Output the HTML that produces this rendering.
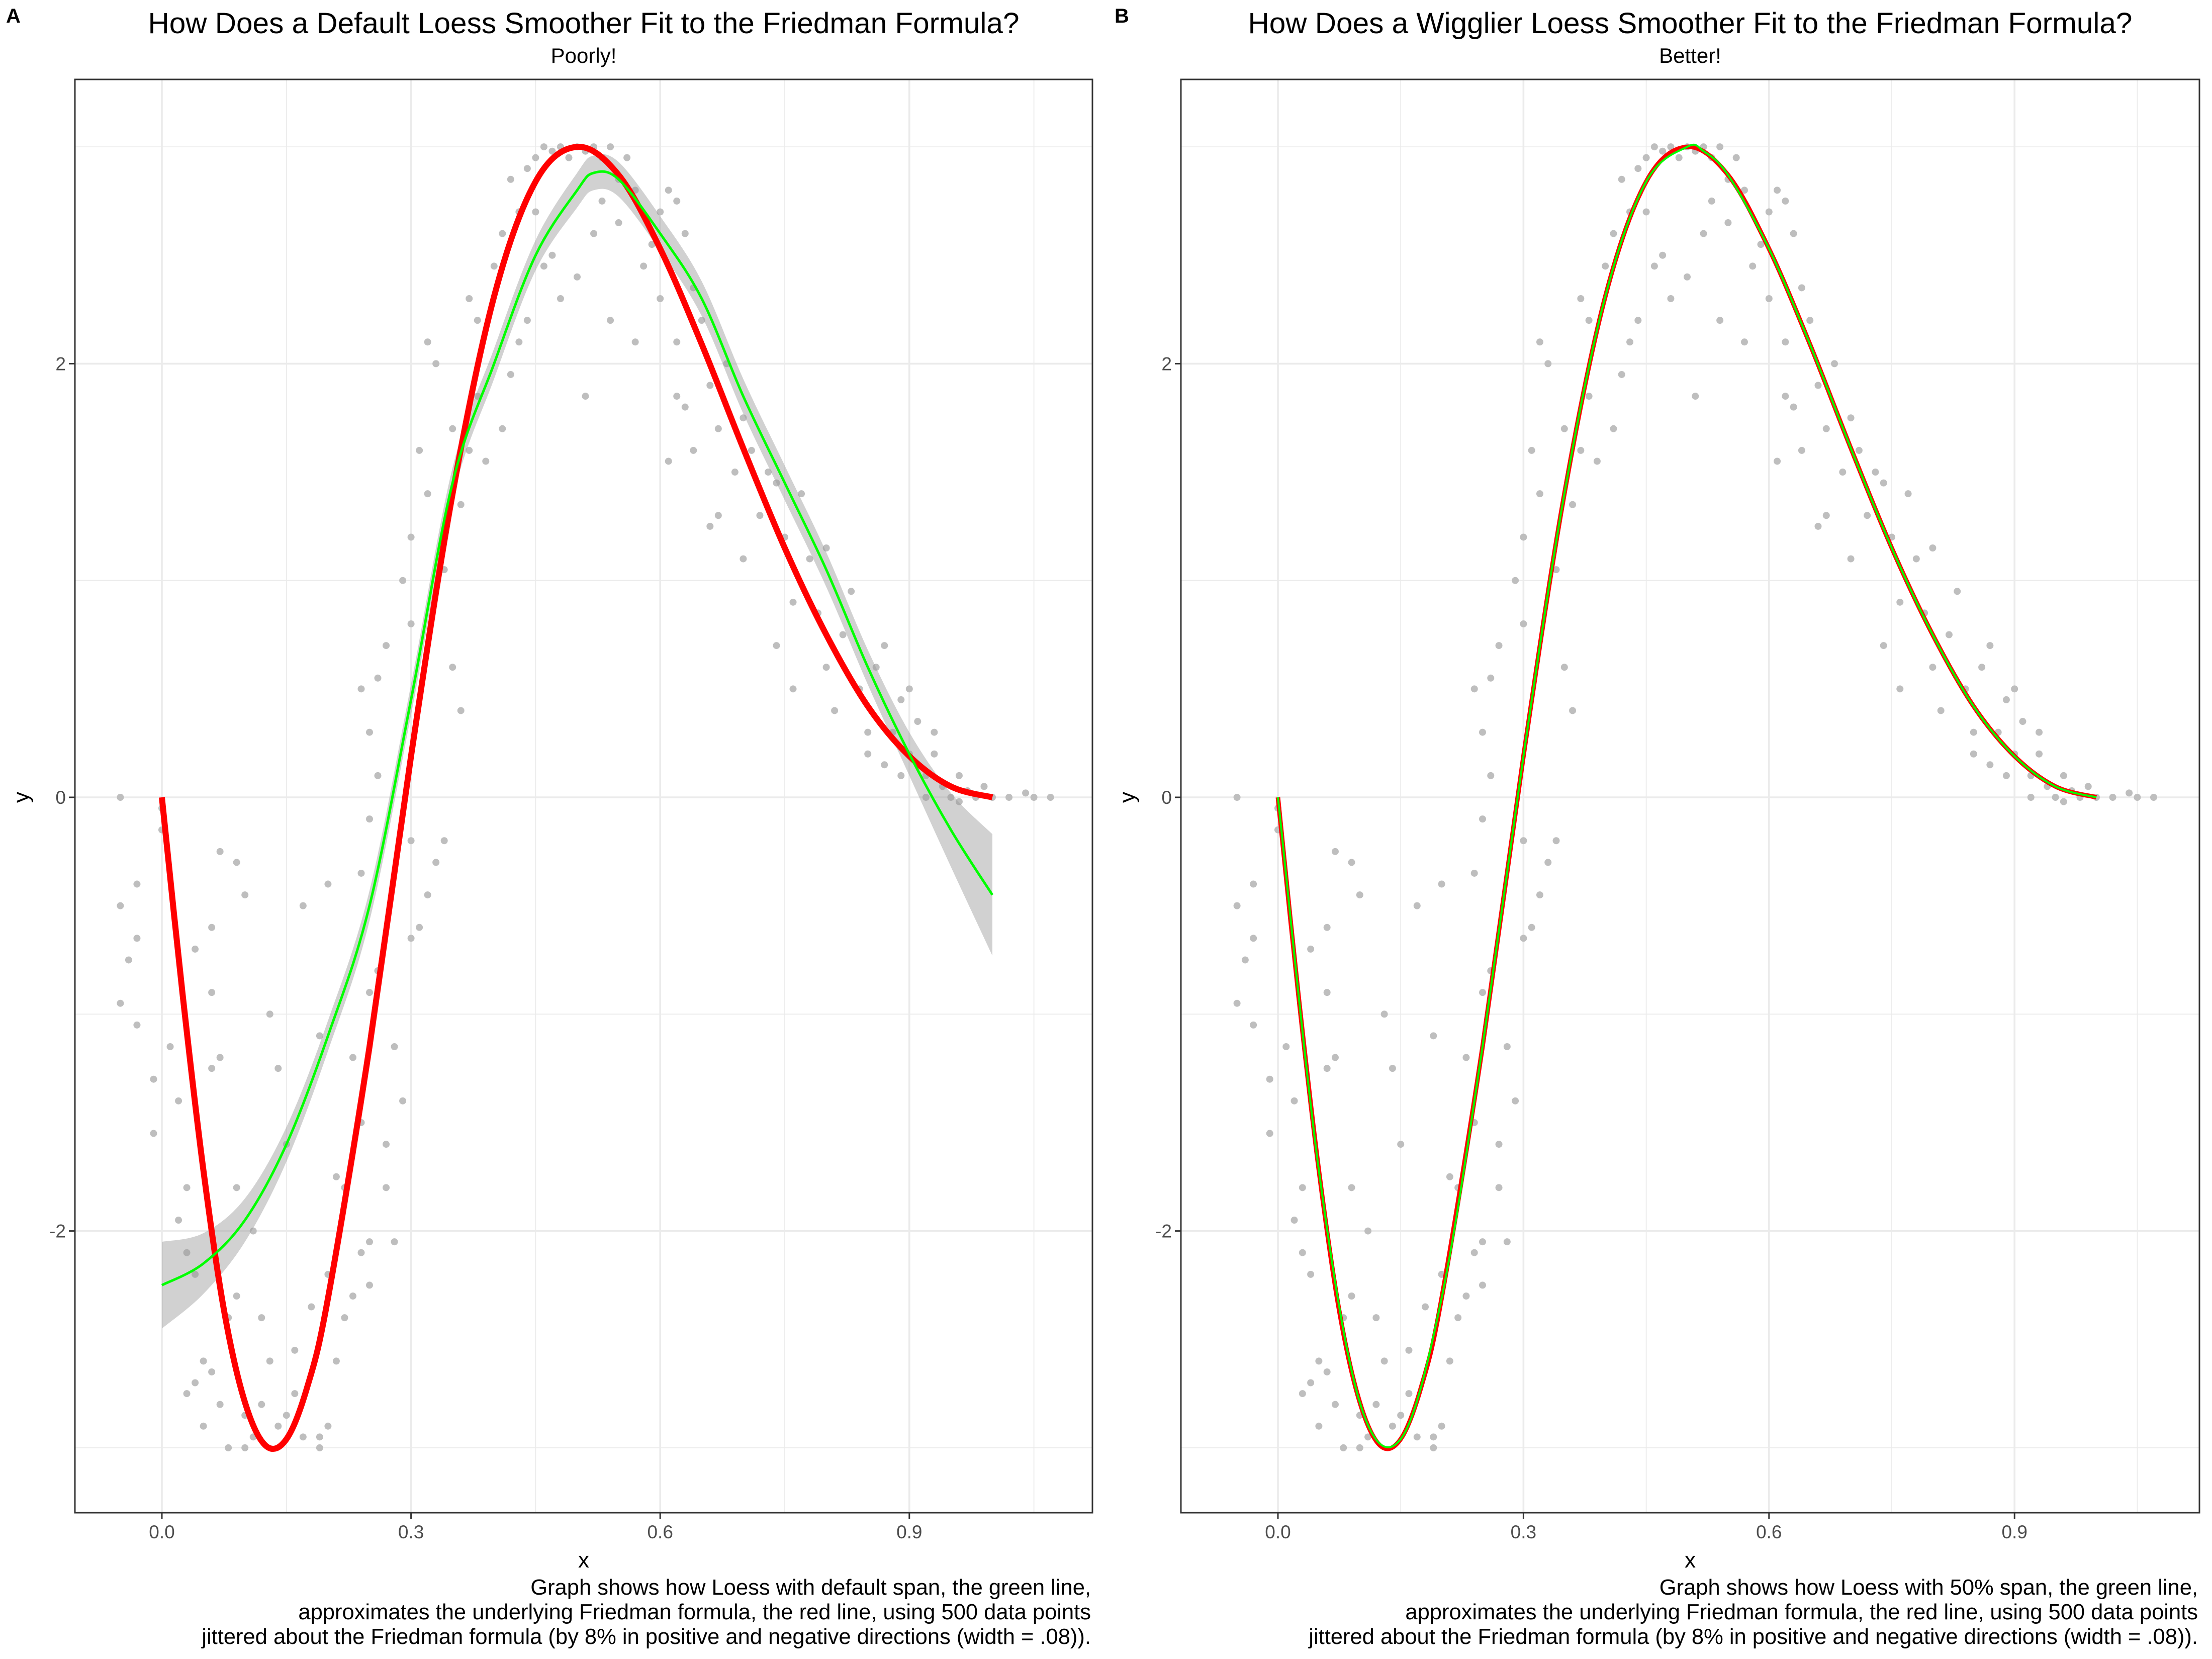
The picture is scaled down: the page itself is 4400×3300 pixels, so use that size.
<!DOCTYPE html>
<html><head><meta charset="utf-8"><style>
html,body{margin:0;padding:0;background:#fff}
svg{display:block;font-family:"Liberation Sans",Arial,sans-serif}
</style></head><body>
<svg id="fig" width="4400" height="3300" viewBox="0 0 4400 3300" xmlns="http://www.w3.org/2000/svg">
<rect width="4400" height="3300" fill="#fff"/>
</svg>
<script>
// ---- data ----
const curveX = [0,0.025,0.05,0.075,0.1,0.125,0.15,0.175,0.2,0.25,0.3,0.35,0.4,0.45,0.5,0.55,0.6,0.65,0.7,0.75,0.8,0.85,0.9,0.95,1.0];
const redY   = [0,-0.91,-1.72,-2.37,-2.79,-2.99,-2.96,-2.72,-2.31,-1.15,0.19,1.40,2.31,2.84,3.0,2.87,2.53,2.09,1.61,1.15,0.75,0.42,0.19,0.05,0];
const loessX = [0,0.05,0.1,0.15,0.2,0.25,0.3,0.35,0.4,0.45,0.5,0.52,0.55,0.6,0.65,0.7,0.75,0.8,0.85,0.9,0.95,1.0];
const loessDefaultY = [-2.25,-2.15,-1.95,-1.6,-1.1,-0.5,0.45,1.45,2.0,2.5,2.8,2.88,2.85,2.6,2.3,1.85,1.45,1.05,0.6,0.2,-0.15,-0.45];
const loessDefaultSE = [0.2,0.14,0.1,0.08,0.07,0.07,0.07,0.07,0.07,0.07,0.08,0.08,0.08,0.08,0.08,0.08,0.08,0.08,0.08,0.1,0.17,0.28];
const loessWigglyY = [0,-1.72,-2.79,-2.96,-2.31,-1.15,0.19,1.40,2.31,2.84,3.0,2.98,2.87,2.53,2.09,1.61,1.15,0.75,0.42,0.19,0.05,0];
const pointX = [-0.05,-0.05,-0.04,-0.03,-0.03,-0.05,-0.03,-0.01,-0.01,0.0,0.0,0.01,0.02,0.07,0.09,0.1,0.06,0.04,0.06,0.07,0.06,0.03,0.02,0.03,0.04,0.04,0.05,0.03,0.05,0.06,0.08,0.07,0.09,0.08,0.1,0.1,0.11,0.12,0.13,0.12,0.14,0.15,0.16,0.17,0.16,0.18,0.19,0.19,0.2,0.21,0.2,0.22,0.23,0.24,0.25,0.25,0.21,0.22,0.24,0.23,0.25,0.26,0.27,0.28,0.27,0.28,0.29,0.24,0.25,0.26,0.26,0.27,0.24,0.25,0.17,0.19,0.2,0.14,0.13,0.15,0.09,0.11,
0.3,0.3,0.31,0.32,0.33,0.34,0.3,0.29,0.3,0.31,0.32,0.33,0.32,0.34,0.35,0.36,0.37,0.36,0.35,0.38,0.38,0.37,0.39,0.4,0.41,0.42,0.43,0.44,0.45,0.46,0.47,0.48,0.49,0.5,0.51,0.52,0.53,0.54,0.55,0.56,0.57,0.46,0.47,0.43,0.44,0.42,0.41,0.45,0.5,0.52,0.55,0.48,0.53,0.51,0.54,0.57,0.58,0.59,0.6,0.61,0.62,0.63,0.6,0.62,0.64,0.65,0.63,0.61,0.62,0.64,0.66,0.67,0.68,0.66,0.67,0.69,0.7,0.7,0.71,0.72,0.73,0.74,0.75,0.76,0.77,0.74,0.76,0.78,0.79,0.8,0.8,0.82,0.81,0.83,0.84,0.85,0.86,0.87,0.85,0.88,0.87,0.89,0.9,0.9,0.91,0.92,0.93,0.92,0.94,0.95,0.96,0.97,0.98,0.99,1.0,1.02,1.04,1.05,1.07,0.96,0.93,0.89];
const pointY = [0,-0.5,-0.75,-0.4,-0.65,-0.95,-1.05,-1.3,-1.55,-0.05,-0.15,-1.15,-1.4,-0.25,-0.3,-0.45,-0.6,-0.7,-0.9,-1.2,-1.25,-1.8,-1.95,-2.1,-2.2,-2.7,-2.6,-2.75,-2.9,-2.65,-2.4,-2.8,-2.3,-3.0,-2.85,-3.0,-2.95,-2.8,-2.6,-2.4,-2.9,-2.85,-2.75,-2.95,-2.55,-2.35,-2.95,-3.0,-2.9,-2.6,-2.2,-2.4,-2.3,-2.1,-2.25,-2.05,-1.75,-1.8,-1.5,-1.2,-0.9,-0.8,-1.6,-2.05,-1.8,-1.15,-1.4,-0.35,-0.1,0.1,0.55,0.7,0.5,0.3,-0.5,-1.1,-0.4,-1.25,-1.0,-1.6,-1.8,-2.0,
-0.2,-0.65,-0.6,-0.45,-0.3,-0.2,0.8,1.0,1.2,1.6,2.1,2.0,1.4,1.05,0.6,0.4,1.6,1.35,1.7,1.85,2.2,2.3,1.55,2.45,2.6,2.85,2.7,2.9,2.95,3.0,2.98,3.0,2.95,3.0,2.98,3.0,2.95,3.0,2.85,2.95,2.8,2.45,2.5,2.1,2.2,1.95,1.7,2.7,2.4,2.6,2.65,2.3,2.75,1.85,2.2,2.1,2.45,2.55,2.7,2.8,2.75,2.6,2.3,2.1,2.35,2.2,1.8,1.55,1.85,1.6,1.9,1.7,2.0,1.25,1.3,1.5,1.75,1.1,1.6,1.3,1.5,1.45,1.2,0.9,1.4,0.7,0.5,1.1,0.85,1.15,0.6,0.75,0.4,0.95,0.5,0.3,0.6,0.7,0.2,0.3,0.15,0.45,0.2,0.5,0.35,0.1,0.2,0.0,0.05,0.0,0.1,0.03,0.0,0.05,0.0,0.0,0.02,0.0,0.0,-0.02,0.3,0.1];
const xTicks = [0,0.3,0.6,0.9];
const xTickLabels = ["0.0","0.3","0.6","0.9"];
const xMinor = [0.15,0.45,0.75,1.05];
const yTicks = [-2,0,2];
const yTickLabels = ["-2","0","2"];
const yMinor = [-3,-1,1,3];

// ---- helpers ----
const NS="http://www.w3.org/2000/svg";
const svg=document.getElementById('fig');
function mk(tag,attrs,parent){const e=document.createElementNS(NS,tag);for(const k in attrs)e.setAttribute(k,attrs[k]);(parent||svg).appendChild(e);return e;}
function smoothPath(pts){
  let d="M"+pts[0][0].toFixed(1)+","+pts[0][1].toFixed(1);
  for(let i=0;i<pts.length-1;i++){
    const p0=pts[Math.max(0,i-1)],p1=pts[i],p2=pts[i+1],p3=pts[Math.min(pts.length-1,i+2)];
    const c1=[p1[0]+(p2[0]-p0[0])/6,p1[1]+(p2[1]-p0[1])/6];
    const c2=[p2[0]-(p3[0]-p1[0])/6,p2[1]-(p3[1]-p1[1])/6];
    d+=" C"+c1[0].toFixed(1)+","+c1[1].toFixed(1)+" "+c2[0].toFixed(1)+","+c2[1].toFixed(1)+" "+p2[0].toFixed(1)+","+p2[1].toFixed(1);
  }
  return d;
}
function txt(s,x,y,size,anchor,fill,parent,extra){const t=mk('text',Object.assign({x:x,y:y,'font-size':size,'text-anchor':anchor,fill:fill},extra||{}),parent);t.textContent=s;return t;}

function panel(cfg){
  const g=mk('g',{});
  
  
  const L=cfg.L,R=cfg.R,T=158,B=3009;
  const xs=v=>cfg.x0+v*cfg.xu;
  const ys=v=>1586-v*431.3;
  const tag=txt(cfg.tag,cfg.tagX,45,40,'start','#000',g,{'font-weight':'bold'});
  
  
  const cx=(L+R)/2;
  const title=txt(cfg.title,cx,66,58.5,'middle','#000',g);
  
  
  const sub=txt(cfg.subtitle,cx,125,42,'middle','#000',g);
  
  
  const grid=mk('g',{},g);
  
  
  xMinor.forEach(v=>mk('line',{x1:xs(v),x2:xs(v),y1:T,y2:B,stroke:'#ebebeb','stroke-width':1.8},grid));
  yMinor.forEach(v=>mk('line',{x1:L,x2:R,y1:ys(v),y2:ys(v),stroke:'#ebebeb','stroke-width':1.8},grid));
  xTicks.forEach(v=>mk('line',{x1:xs(v),x2:xs(v),y1:T,y2:B,stroke:'#ebebeb','stroke-width':3.6},grid));
  yTicks.forEach(v=>mk('line',{x1:L,x2:R,y1:ys(v),y2:ys(v),stroke:'#ebebeb','stroke-width':3.6},grid));
  const pg=mk('g',{},g);
  
  
  for(let i=0;i<pointX.length;i++){
    const c=mk('circle',{cx:xs(pointX[i]),cy:ys(pointY[i]),r:7,fill:'#bebebe'},pg);
    
    
  }
  const redPts=curveX.map((v,i)=>[xs(v),ys(redY[i])]);
  const greenPts=loessX.map((v,i)=>[xs(v),ys(cfg.green[i])]);
  if(cfg.se){
    const up=loessX.map((v,i)=>[xs(v),ys(cfg.green[i]+cfg.se[i])]);
    const lo=loessX.map((v,i)=>[xs(v),ys(cfg.green[i]-cfg.se[i])]).reverse();
    const rib=mk('path',{d:smoothPath(up)+" L"+smoothPath(lo).slice(1)+" Z",fill:'#999','fill-opacity':0.45},g);
    
    
  }
  const red=mk('path',{d:smoothPath(redPts),fill:'none',stroke:'#ff0000','stroke-width':cfg.redW,'stroke-linejoin':'round'},g);
  
  
  const green=mk('path',{d:smoothPath(greenPts),fill:'none',stroke:'#00ff00','stroke-width':cfg.greenW,'stroke-linejoin':'round'},g);
  
  
  const border=mk('rect',{x:L,y:T,width:R-L,height:B-T,fill:'none',stroke:'#333','stroke-width':3},g);
  
  
  xTicks.forEach((v,i)=>{
    mk('line',{x1:xs(v),x2:xs(v),y1:B,y2:B+12,stroke:'#333','stroke-width':3},g);
    const t=txt(xTickLabels[i],xs(v),3060,37,'middle','#4d4d4d',g);
    
    
  });
  yTicks.forEach((v,i)=>{
    mk('line',{x1:L-12,x2:L,y1:ys(v),y2:ys(v),stroke:'#333','stroke-width':3},g);
    const t=txt(yTickLabels[i],L-18,ys(v)+13,37,'end','#4d4d4d',g);
    
    
  });
  const xt=txt('x',cx,3118,44,'middle','#000',g);
  
  
  const yt=txt('y',0,0,44,'middle','#000',g,{transform:'translate('+(L-92)+',1586) rotate(-90)'});
  
  
  cfg.caption.forEach((s,i)=>{
    const c=txt(s,R-3,3172+i*49,43.5,'end','#000',g);
    
    
  });
}
panel({name:'panel-a',tag:'A',tagX:12,L:149,R:2173,x0:322,xu:1652,
  title:'How Does a Default Loess Smoother Fit to the Friedman Formula?',subtitle:'Poorly!',
  green:loessDefaultY,se:loessDefaultSE,redW:12,greenW:5,
  caption:['Graph shows how Loess with default span, the green line,','approximates the underlying Friedman formula, the red line, using 500 data points','jittered about the Friedman formula (by 8% in positive and negative directions (width = .08)).']});
panel({name:'panel-b',tag:'B',tagX:2217,L:2349,R:4375,x0:2542,xu:1628,
  title:'How Does a Wigglier Loess Smoother Fit to the Friedman Formula?',subtitle:'Better!',
  green:loessWigglyY,se:null,redW:9,greenW:4,
  caption:['Graph shows how Loess with 50% span, the green line,','approximates the underlying Friedman formula, the red line, using 500 data points','jittered about the Friedman formula (by 8% in positive and negative directions (width = .08)).']});
</script>
</body></html>
